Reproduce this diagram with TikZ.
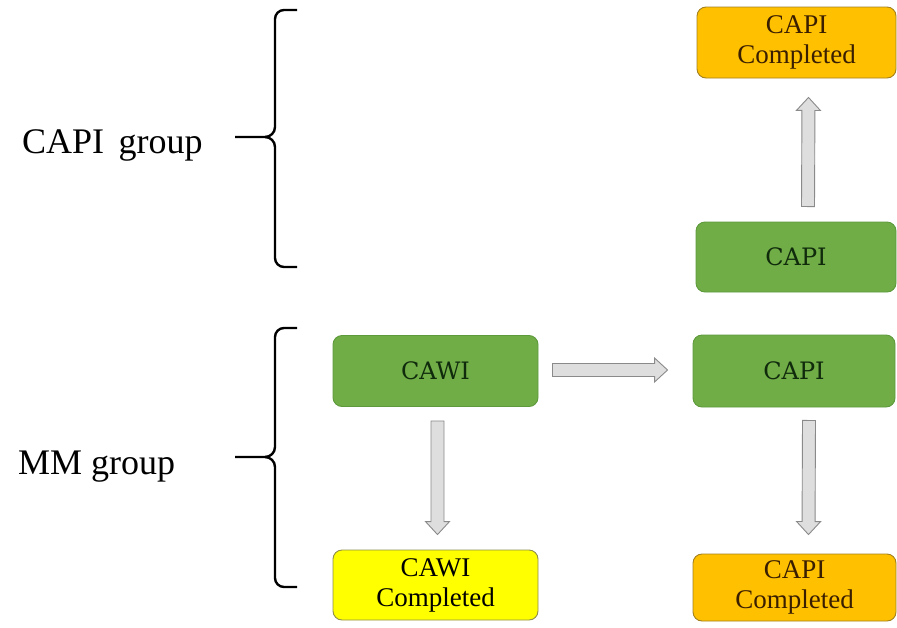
\documentclass[tikz,border=0pt]{standalone}
\usepackage{fontspec}
\setmainfont{Liberation Serif}
\newfontfamily\slabfont{DejaVu Serif}
\usetikzlibrary{calc}
\definecolor{grfill}{HTML}{70AD47}
\definecolor{grline}{HTML}{5E9A3C}
\definecolor{grtext}{HTML}{102A0C}
\definecolor{orfill}{HTML}{FFC000}
\definecolor{orline}{HTML}{A3801E}
\definecolor{ortext}{HTML}{3A1E00}
\definecolor{yefill}{HTML}{FFFF00}
\definecolor{yeline}{HTML}{8F8F4A}
\definecolor{arfill}{HTML}{DEDEDE}
\definecolor{arline}{HTML}{8A8A8A}
\tikzset{
  box/.style={rounded corners=9pt, line width=0.9pt, inner sep=0pt, align=center},
  greenbox/.style={box, fill=grfill, draw=grline, text=grtext,
    font=\slabfont\fontsize{24}{28}\selectfont},
  orangebox/.style={box, fill=orfill, draw=orline, text=ortext,
    font=\fontsize{27}{30}\selectfont},
  yellowbox/.style={box, fill=yefill, draw=yeline, text=black,
    font=\fontsize{27}{30}\selectfont},
  grouplabel/.style={font=\fontsize{36}{40}\selectfont, inner sep=0pt},
  blockarr/.style={fill=arfill, draw=arline, line width=0.9pt, line join=miter},
  bracestyle/.style={line width=2.4pt, line cap=butt, black}
}
\newcommand{\blockarrow}[2]{%
  \coordinate (hb) at ($(#2)!13pt!(#1)$);
  \draw[blockarr] ($(#1)!6.5pt!90:(#2)$) -- ($(hb)!6.5pt!-90:(#1)$)
    -- ($(hb)!12pt!-90:(#1)$) -- (#2) -- ($(hb)!12pt!90:(#1)$)
    -- ($(hb)!6.5pt!90:(#1)$) -- ($(#1)!6.5pt!-90:(#2)$) -- cycle;}
\begin{document}
\begin{tikzpicture}[x=1pt, y=-1pt]
\useasboundingbox (0,0) rectangle (897,627);

% boxes
\node[orangebox, minimum width=199pt, minimum height=71pt] (capictop) at (796.5,42.5) {CAPI\\Completed};
\node[greenbox, minimum width=200pt, minimum height=70pt] (capitop) at (796,257) {CAPI};
\node[greenbox, minimum width=205pt, minimum height=71pt] (cawi) at (435.5,371) {CAWI};
\node[greenbox, minimum width=202pt, minimum height=72pt] (capimid) at (794,371) {CAPI};
\node[yellowbox, minimum width=205pt, minimum height=70pt] (cawic) at (435.5,585) {CAWI\\Completed};
\node[orangebox, minimum width=203pt, minimum height=67pt] (capicbot) at (794.5,587.5) {CAPI\\Completed};

% labels
\node[grouplabel, anchor=west] (capigroup) at (22,145) {CAPI\hspace{0.15em} group};
\node[grouplabel, anchor=west] (mmgroup) at (18,467) {MM group};

% arrows
\coordinate (a1s) at ($(cawi.south)+(2,14)$);
\coordinate (a1e) at ($(cawic.north)+(2,-15)$);
\blockarrow{a1s}{a1e}
\coordinate (a2s) at ($(capimid.south)+(15,13)$);
\coordinate (a2e) at ($(capicbot.north)+(14,-19)$);
\blockarrow{a2s}{a2e}
\coordinate (a3s) at ($(capitop.north)+(12,-15)$);
\coordinate (a3e) at ($(capictop.south)+(12,19)$);
\blockarrow{a3s}{a3e}
\coordinate (a4s) at ($(cawi.east)+(14,-1)$);
\coordinate (a4e) at ($(capimid.west)+(-25,-1)$);
\blockarrow{a4s}{a4e}

% braces
\coordinate (b1tip) at (235,137);
\coordinate (b1top) at (297,10);
\coordinate (b1bot) at (297,267);
\draw[bracestyle] (b1top) -- (284,10) to[out=180,in=90] (275,19) -- (275,127)
  to[out=-90,in=0] (265,137) -- (b1tip);
\draw[bracestyle] (265,137) to[out=0,in=90] (275,147) -- (275,258)
  to[out=-90,in=180] (284,267) -- (b1bot);

\coordinate (b2tip) at (235,457);
\coordinate (b2top) at (297,328);
\coordinate (b2bot) at (297,587);
\draw[bracestyle] (b2top) -- (284,328) to[out=180,in=90] (275,337) -- (275,447)
  to[out=-90,in=0] (265,457) -- (b2tip);
\draw[bracestyle] (265,457) to[out=0,in=90] (275,467) -- (275,578)
  to[out=-90,in=180] (284,587) -- (b2bot);
\end{tikzpicture}
\end{document}
